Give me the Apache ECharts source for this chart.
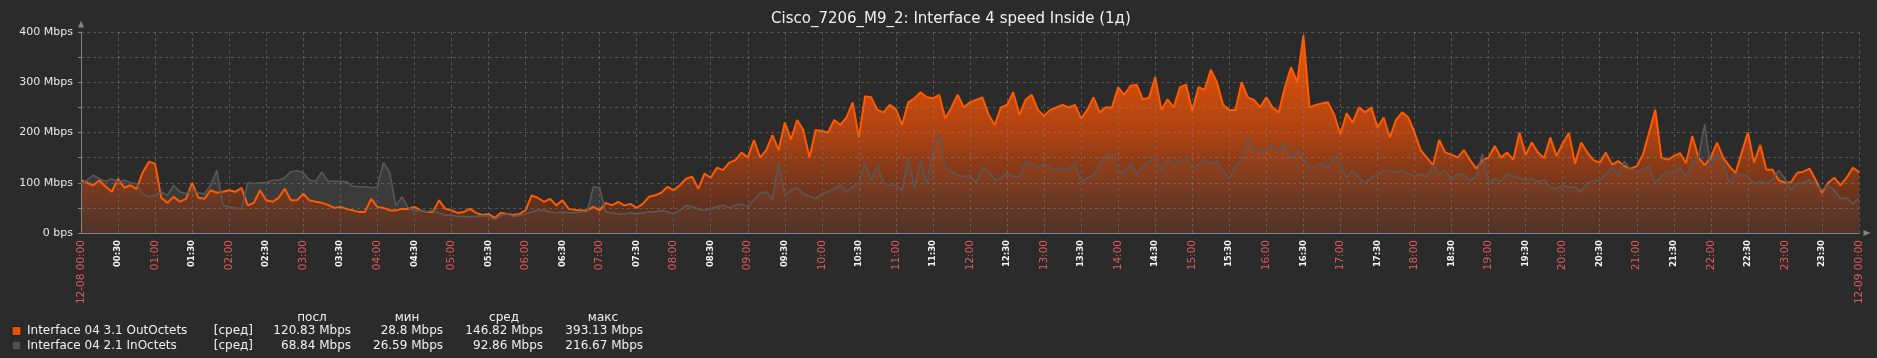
<!DOCTYPE html>
<html>
<head>
<meta charset="utf-8">
<script src="https://cdn.jsdelivr.net/npm/echarts@6/dist/echarts.min.js"></script>
<style>
html,body{margin:0;padding:0;background:#2b2b2b;}
#c{width:1877px;height:358px;}
</style>
</head>
<body>
<div id="c"></div>
<script>
// ---- data (Mbps, one sample every 5 minutes, 12-08 00:00 .. 12-09 00:00) ----
const stepMinutes = 5;
const outOctets = [
 105,100,95,105,92,82,108,90,95,88,121,142,
 138,70,60,72,62,68,100,70,68,85,80,82,
 85,82,90,55,60,85,65,62,70,88,65,65,
 78,65,62,60,56,50,52,48,45,42,42,68,
 52,50,45,45,48,48,52,45,42,42,65,48,
 45,40,42,48,40,36,38,30,40,38,36,38,
 45,75,70,62,68,55,65,48,46,45,45,52,
 45,60,55,62,55,58,50,58,72,75,80,92,
 85,95,108,112,88,118,110,130,125,140,145,160,
 150,185,150,165,195,165,220,186,225,205,150,205,
 203,200,225,215,230,260,190,272,270,245,240,255,
 246,215,260,268,280,270,268,275,228,250,275,250,
 260,265,270,236,215,250,255,280,235,265,275,245,
 233,245,250,255,250,255,228,245,270,240,250,250,
 290,275,293,295,266,269,310,245,266,250,290,295,
 243,290,285,325,300,255,245,245,300,270,265,250,
 270,250,240,290,330,300,393.13,250,255,258,260,235,
 196,238,220,250,240,250,210,230,190,225,240,230,
 200,165,150,135,185,160,156,150,165,145,128,145,
 150,173,150,160,146,200,155,180,160,149,190,153,
 178,199,138,180,160,145,140,160,136,143,133,128,
 133,156,200,245,150,146,153,159,139,193,150,135,
 150,180,150,133,119,160,200,140,175,126,126,105,
 100,101,120,122,128,105,80,100,110,95,110,130,
 120.83
];
const inOctets = [
 98,105,115,108,103,108,101,105,100,98,78,72,
 75,82,75,95,82,78,85,80,78,95,125,55,
 52,50,48,100,98,100,100,105,105,110,122,124,
 120,105,103,121,103,103,103,102,93,92,92,90,
 92,140,120,55,72,50,45,45,42,45,40,36,
 35,33,33,32,33,34,33,27,34,38,33,35,
 38,42,45,45,42,40,42,40,40,42,42,92,
 90,42,40,38,38,40,38,40,42,42,45,42,
 38,45,55,52,48,45,48,52,55,50,55,58,
 52,66,79,82,66,140,75,86,90,78,73,68,
 78,82,88,96,82,92,100,140,105,135,100,95,
 95,85,150,90,145,96,165,195,130,123,115,112,
 115,100,130,125,105,110,118,113,112,140,138,130,
 139,129,125,130,125,140,100,110,115,136,155,158,
 125,120,140,118,135,143,150,125,148,138,142,150,
 129,136,145,139,142,123,108,133,145,190,160,166,
 165,175,160,180,150,166,150,129,132,140,130,155,
 135,110,125,110,100,110,116,125,123,122,125,118,
 113,118,112,135,116,125,105,118,115,105,112,158,
 100,108,103,118,113,110,106,108,102,106,90,88,
 95,90,92,82,100,104,106,116,132,116,143,126,
 123,126,133,100,113,122,122,130,112,140,150,216.67,
 130,160,140,100,118,116,113,97,103,98,106,125,
 108,86,100,100,106,96,86,95,85,68,70,58,
 68.84
];
const dateLabels = ['12-08 00:00', '12-09 00:00'];
const seriesNames = ['Interface 04 3.1 OutOctets', 'Interface 04 2.1 InOctets'];
const funcLabel = '[сред]';
const statHeaders = ['посл', 'мин', 'сред', 'макс'];
const outStats = ['120.83 Mbps', '28.8 Mbps', '146.82 Mbps', '393.13 Mbps'];
const inStats = ['68.84 Mbps', '26.59 Mbps', '92.86 Mbps', '216.67 Mbps'];
const titleText = 'Cisco_7206_M9_2: Interface 4 speed Inside (1д)';

// ---- build ----
const outPts = outOctets.map((v, i) => [i * stepMinutes, v]);
const inPts = inOctets.map((v, i) => [i * stepMinutes, v]);
const FONT = '"DejaVu Sans", "Noto Sans", sans-serif';
const pad = n => (n < 10 ? '0' : '') + n;

function xLabel(v) {
  if (v === 0) return '{h|' + dateLabels[0] + '}';
  if (v === 1440) return '{h|' + dateLabels[1] + '}';
  const s = pad(Math.floor(v / 60)) + ':' + pad(v % 60);
  return v % 60 === 0 ? '{h|' + s + '}' : '{m|' + s + '}';
}

const statRight = [351, 443, 543, 643];
const headCenter = [312, 407, 504, 603];
const rowY = [331, 345.5];
const graphics = [];
const squareFill = ['#e65100', '#4f4f4f'];
[outStats, inStats].forEach((stats, r) => {
  graphics.push({type: 'rect', shape: {x: 12, y: rowY[r] - 4.5, width: 9, height: 9},
    style: {fill: squareFill[r], stroke: '#1c1c1c', lineWidth: 1}});
  graphics.push({type: 'text', style: {text: seriesNames[r], x: 27, y: rowY[r], fill: '#f0f0f0',
    font: '12px ' + FONT, textAlign: 'left', textVerticalAlign: 'middle', align: 'left', verticalAlign: 'middle'}});
  graphics.push({type: 'text', style: {text: funcLabel, x: 253, y: rowY[r], fill: '#f0f0f0',
    font: '12px ' + FONT, textAlign: 'right', textVerticalAlign: 'middle', align: 'right', verticalAlign: 'middle'}});
  stats.forEach((s, k) => {
    graphics.push({type: 'text', style: {text: s, x: statRight[k], y: rowY[r], fill: '#f0f0f0',
      font: '12px ' + FONT, textAlign: 'right', textVerticalAlign: 'middle', align: 'right', verticalAlign: 'middle'}});
  });
});
statHeaders.forEach((h, k) => {
  graphics.push({type: 'text', style: {text: h, x: headCenter[k], y: 318, fill: '#f0f0f0',
    font: '12px ' + FONT, textAlign: 'center', textVerticalAlign: 'middle', align: 'center', verticalAlign: 'middle'}});
});

const gridLine = {show: true, lineStyle: {color: 'rgba(135,135,135,0.45)', type: [3, 3], width: 1}};

const chart = echarts.init(document.getElementById('c'), null, {renderer: 'canvas'});
chart.setOption({
  backgroundColor: '#2b2b2b',
  animation: false,
  title: {text: titleText, left: 766, top: 7,
    textStyle: {color: '#f0f0f0', fontSize: 15, fontWeight: 'normal', fontFamily: FONT}},
  grid: {left: 81, top: 32, right: 18, bottom: 125, containLabel: false},
  xAxis: {
    type: 'value', min: 0, max: 1440, interval: 30, z: 3,
    axisLine: {show: true, lineStyle: {color: '#858585', width: 1},
      symbol: ['none', 'triangle'], symbolSize: [6, 7], symbolOffset: [0, 8]},
    axisTick: {show: false},
    splitLine: gridLine,
    axisLabel: {
      rotate: 90, margin: 7, formatter: xLabel, showMinLabel: true, showMaxLabel: true,
      rich: {
        h: {color: '#e45959', fontSize: 10.5, fontFamily: FONT},
        m: {color: '#f4f4f4', fontSize: 8.5, fontFamily: FONT, fontWeight: 'bold'}
      }
    }
  },
  yAxis: {
    type: 'value', min: 0, max: 400, interval: 50, z: 3,
    axisLine: {show: true, lineStyle: {color: '#858585', width: 1},
      symbol: ['none', 'triangle'], symbolSize: [6, 7], symbolOffset: [0, 8]},
    axisTick: {show: true, length: 3, lineStyle: {color: '#858585'},
      interval: function (i, v) { return v % 100 === 0; }},
    splitLine: gridLine,
    axisLabel: {
      margin: 8, color: '#e8e8e8', fontSize: 11, fontFamily: FONT,
      formatter: v => (v % 100 !== 0 ? '' : (v === 0 ? '0 bps' : v + ' Mbps'))
    }
  },
  series: [
    {
      name: seriesNames[1] + ' fill', type: 'line', data: inPts, showSymbol: false, z: 1,
      lineStyle: {width: 0, opacity: 0},
      areaStyle: {color: 'rgba(88,88,88,0.38)', opacity: 1}
    },
    {
      name: seriesNames[0], type: 'line', data: outPts, showSymbol: false, z: 2,
      lineStyle: {width: 2, color: '#ff5a00'},
      areaStyle: {
        opacity: 1,
        color: {type: 'linear', x: 0, y: 0, x2: 0, y2: 1, colorStops: [
          {offset: 0, color: 'rgba(255,88,0,0.93)'},
          {offset: 0.5, color: 'rgba(215,74,10,0.76)'},
          {offset: 1, color: 'rgba(95,45,28,0.58)'}
        ]}
      }
    },
    {
      name: seriesNames[1], type: 'line', data: inPts, showSymbol: false, z: 4,
      lineStyle: {width: 1.6, color: '#585858'}
    }
  ],
  graphic: graphics
});
</script>
</body>
</html>
